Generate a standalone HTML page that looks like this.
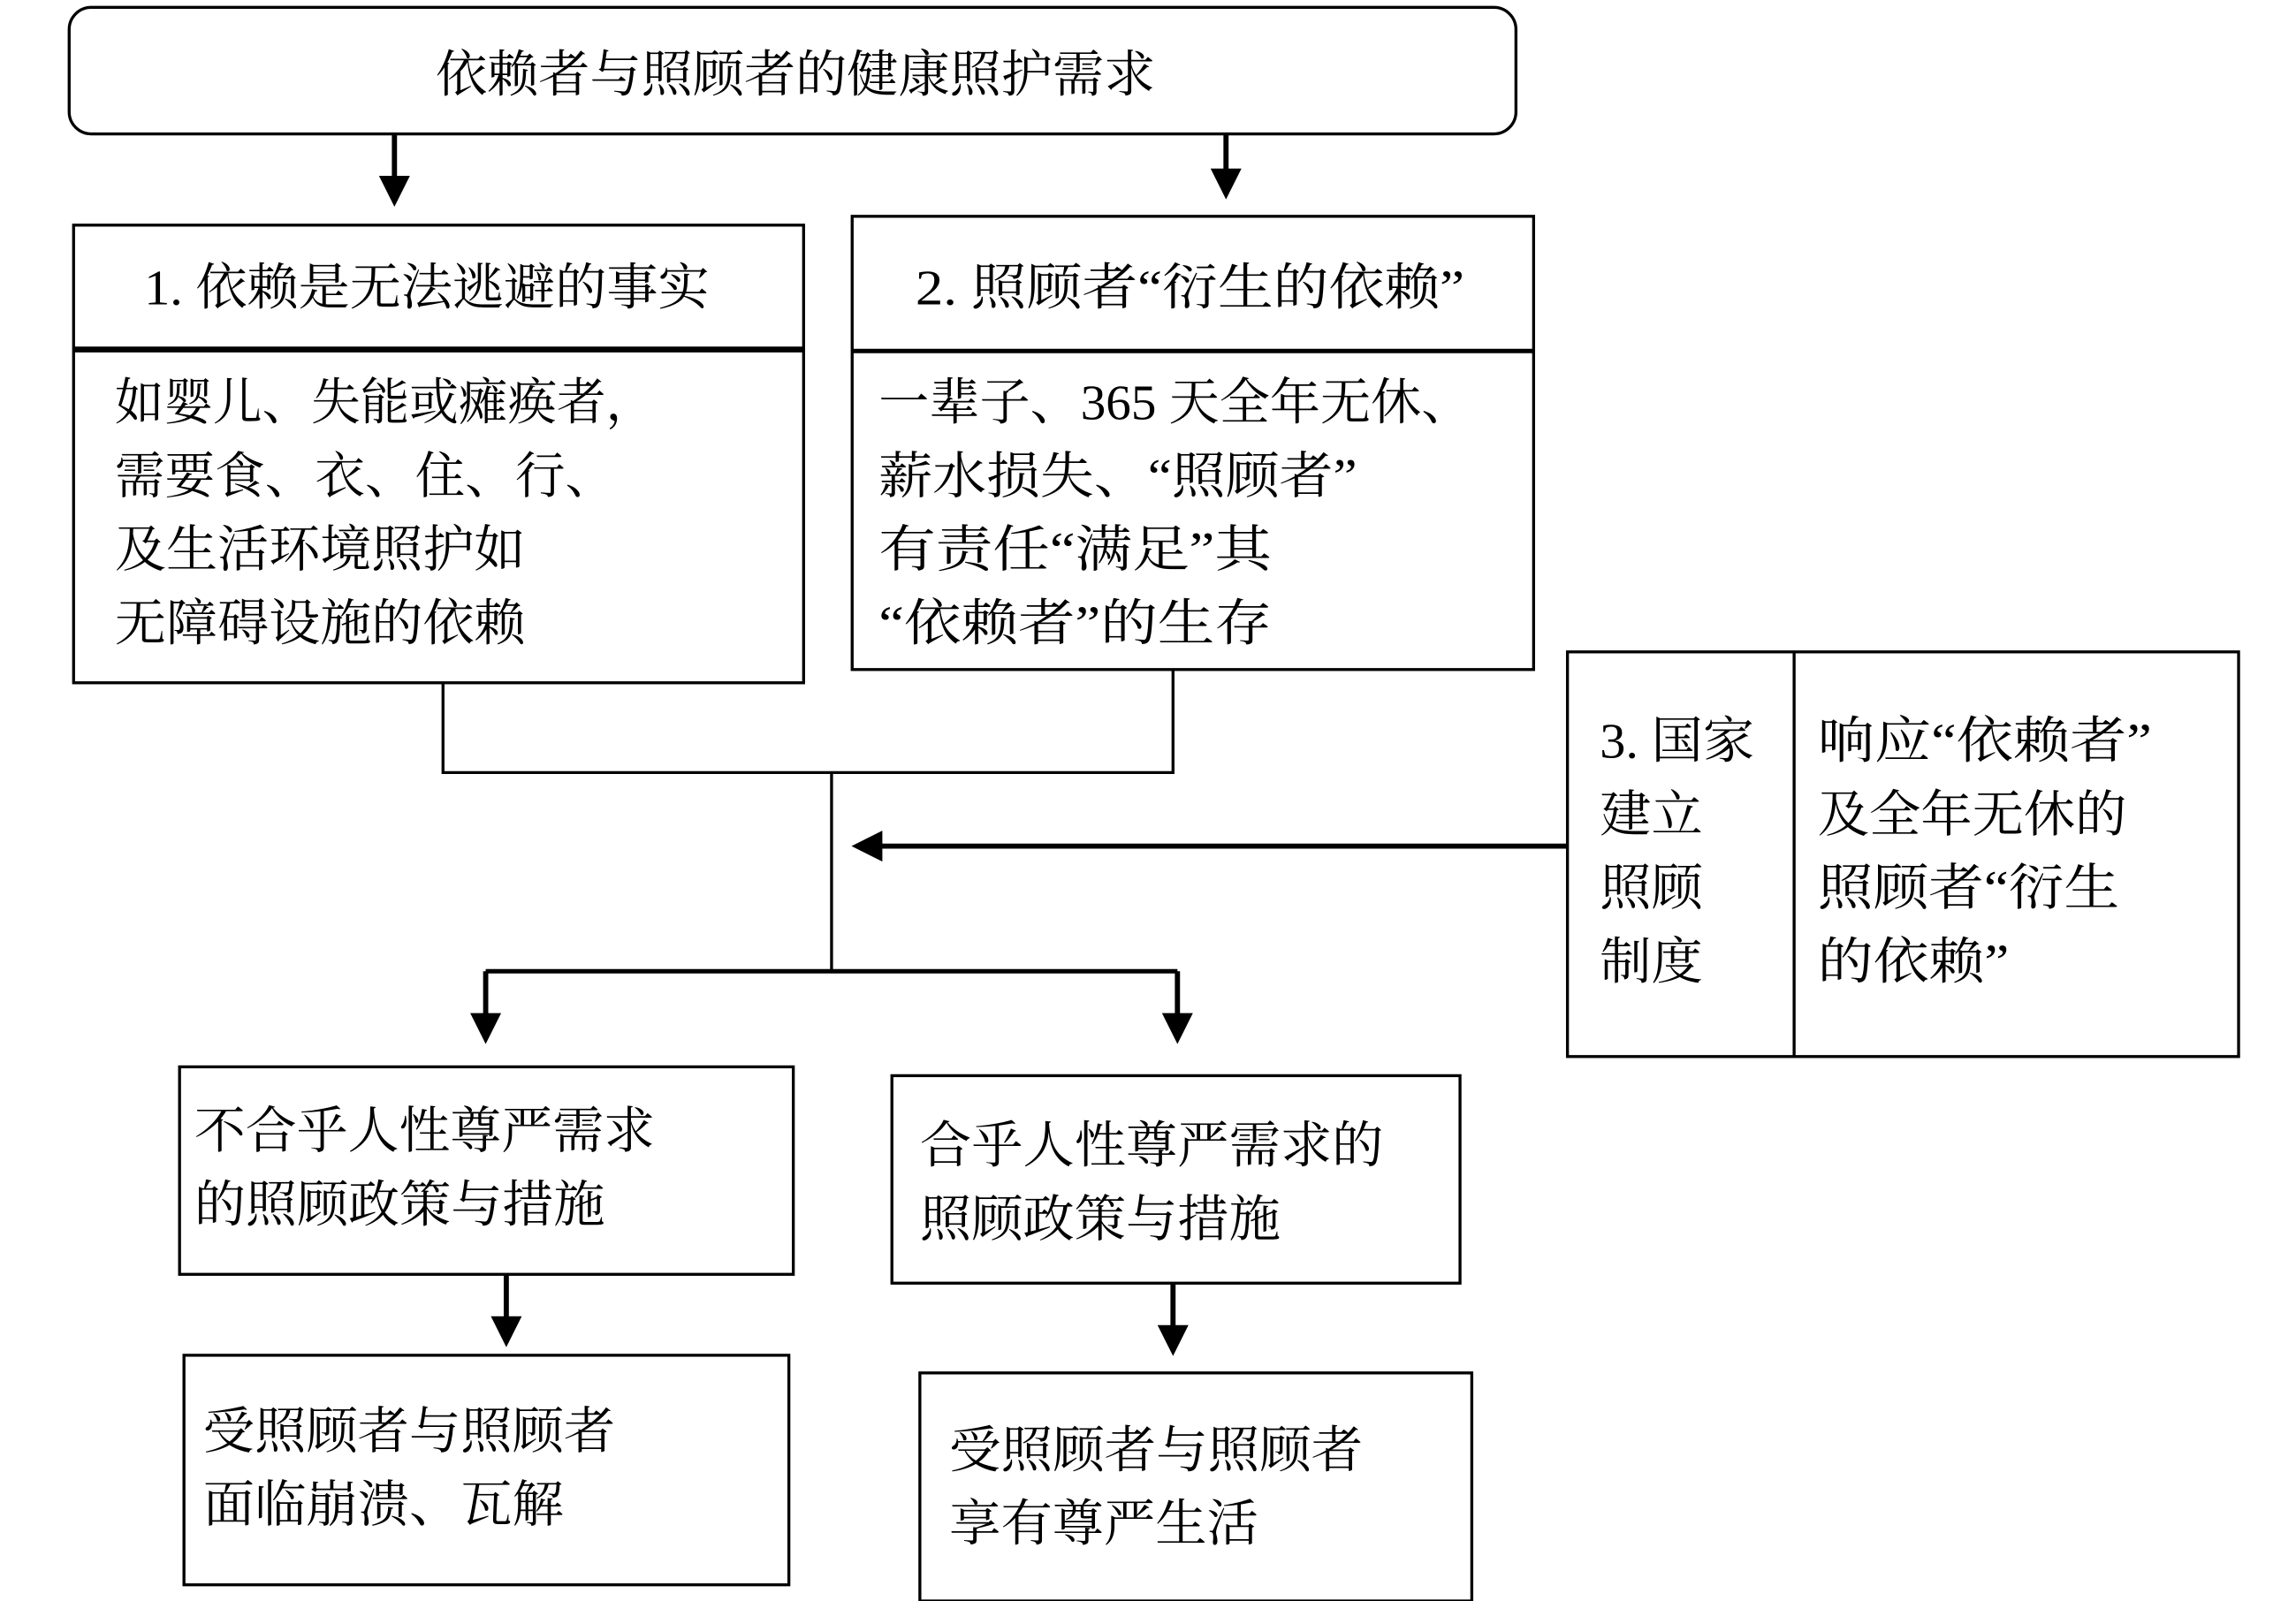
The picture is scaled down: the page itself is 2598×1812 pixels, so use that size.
<!DOCTYPE html>
<html><head><meta charset="utf-8"><style>
html,body{margin:0;padding:0;background:#fff;}
svg{display:block;}
text{font-family:"Liberation Serif","Noto Serif CJK SC",serif;font-size:34px;fill:#000;}
</style></head><body>
<svg width="2598" height="1812" viewBox="0 0 1560 1088" preserveAspectRatio="none" xmlns="http://www.w3.org/2000/svg">
<defs>
<marker id="ah" markerWidth="6" markerHeight="6" refX="5" refY="3" orient="auto" markerUnits="strokeWidth">
<path d="M0,0 L6,3 L0,6 z" fill="#000"/></marker>
</defs>
<g fill="none" stroke="#000" stroke-width="2">
<rect x="47" y="5" width="983" height="86" rx="15" ry="15"/>
<rect x="50" y="153" width="496" height="311"/>
<rect x="579" y="147" width="463" height="308"/>
<rect x="1065" y="443" width="456" height="275"/>
<line x1="1219" y1="443" x2="1219" y2="718"/>
<rect x="122" y="725" width="417" height="141"/>
<rect x="606" y="731" width="386" height="141"/>
<rect x="125" y="921" width="411" height="156"/>
<rect x="625" y="933" width="375" height="155"/>
<polyline points="301,464 301,525 797,525 797,455"/>
<line x1="565" y1="525" x2="565" y2="660"/>
<line x1="330" y1="660" x2="800" y2="660" stroke-width="3"/>
</g>
<g stroke="#000" stroke-width="4">
<line x1="50" y1="237.5" x2="546" y2="237.5"/>
<line x1="579" y1="238.5" x2="1042" y2="238.5" stroke-width="3"/>
</g>
<g stroke="#000" stroke-width="3.5" marker-end="url(#ah)">
<line x1="268" y1="91" x2="268" y2="137"/>
<line x1="833" y1="91" x2="833" y2="132"/>
<line x1="330" y1="660" x2="330" y2="706"/>
<line x1="800" y1="660" x2="800" y2="706"/>
<line x1="344" y1="866" x2="344" y2="912"/>
<line x1="797" y1="872" x2="797" y2="918"/>
<line x1="1065" y1="575" x2="582" y2="575"/>
</g>
<g lengthAdjust="spacingAndGlyphs">
<text x="296" y="62" textLength="489" lengthAdjust="spacingAndGlyphs">依赖者与照顾者的健康照护需求</text>
<text x="98" y="207" textLength="384" lengthAdjust="spacingAndGlyphs">1. 依赖是无法逃避的事实</text>
<text x="78" y="285" textLength="367" lengthAdjust="spacingAndGlyphs">如婴儿、失能或瘫痪者，</text>
<text x="78" y="335" textLength="340" lengthAdjust="spacingAndGlyphs">需要食、衣、住、行、</text>
<text x="78" y="385" textLength="279" lengthAdjust="spacingAndGlyphs">及生活环境照护如</text>
<text x="78" y="435" textLength="279" lengthAdjust="spacingAndGlyphs">无障碍设施的依赖</text>
<text x="622" y="207" textLength="373" lengthAdjust="spacingAndGlyphs">2. 照顾者“衍生的依赖”</text>
<text x="597" y="285" textLength="403" lengthAdjust="spacingAndGlyphs">一辈子、365 天全年无休、</text>
<text x="597" y="335" textLength="325" lengthAdjust="spacingAndGlyphs">薪水损失、“照顾者”</text>
<text x="597" y="385" textLength="267" lengthAdjust="spacingAndGlyphs">有责任“满足”其</text>
<text x="597" y="435" textLength="267" lengthAdjust="spacingAndGlyphs">“依赖者”的生存</text>
<text x="1087" y="515" textLength="105" lengthAdjust="spacingAndGlyphs">3. 国家</text>
<text x="1087" y="565" textLength="70" lengthAdjust="spacingAndGlyphs">建立</text>
<text x="1087" y="615" textLength="70" lengthAdjust="spacingAndGlyphs">照顾</text>
<text x="1087" y="665" textLength="70" lengthAdjust="spacingAndGlyphs">制度</text>
<text x="1235" y="515" textLength="227" lengthAdjust="spacingAndGlyphs">响应“依赖者”</text>
<text x="1235" y="565" textLength="210" lengthAdjust="spacingAndGlyphs">及全年无休的</text>
<text x="1235" y="615" textLength="205" lengthAdjust="spacingAndGlyphs">照顾者“衍生</text>
<text x="1235" y="665" textLength="130" lengthAdjust="spacingAndGlyphs">的依赖”</text>
<text x="132" y="780" textLength="313" lengthAdjust="spacingAndGlyphs">不合乎人性尊严需求</text>
<text x="132" y="830" textLength="279" lengthAdjust="spacingAndGlyphs">的照顾政策与措施</text>
<text x="625" y="790" textLength="315" lengthAdjust="spacingAndGlyphs">合乎人性尊严需求的</text>
<text x="625" y="840" textLength="245" lengthAdjust="spacingAndGlyphs">照顾政策与措施</text>
<text x="138" y="984" textLength="280" lengthAdjust="spacingAndGlyphs">受照顾者与照顾者</text>
<text x="138" y="1034" textLength="245" lengthAdjust="spacingAndGlyphs">面临崩溃、瓦解</text>
<text x="645" y="997" textLength="281" lengthAdjust="spacingAndGlyphs">受照顾者与照顾者</text>
<text x="645" y="1047" textLength="210" lengthAdjust="spacingAndGlyphs">享有尊严生活</text>
</g>
</svg>
</body></html>
